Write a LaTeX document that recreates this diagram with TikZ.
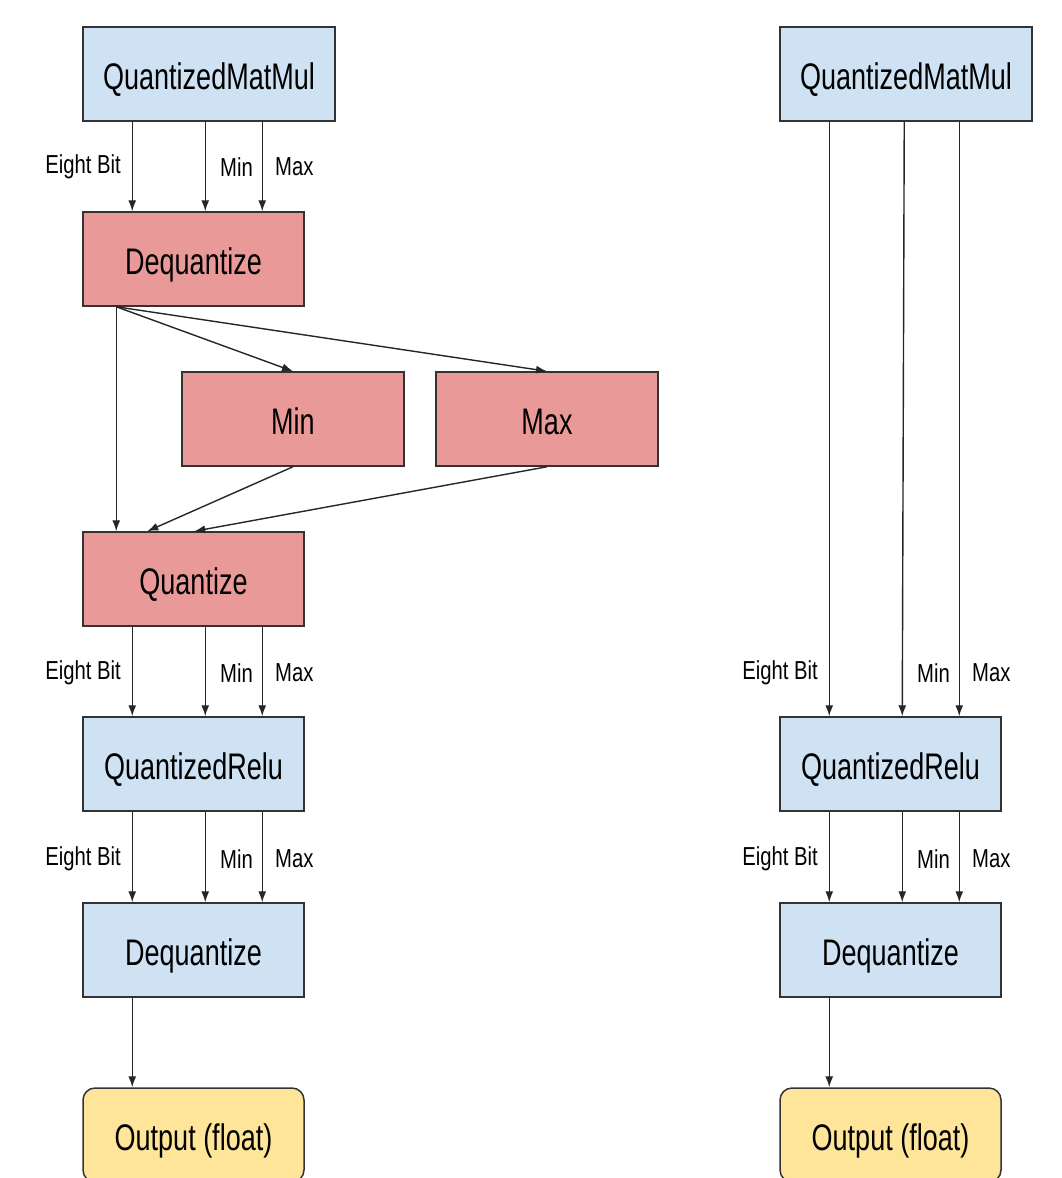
\documentclass[tikz,border=0pt]{standalone}
\usepackage{fontspec}
\setmainfont{Liberation Sans}[FakeStretch=0.73]
\newfontfamily\lblfont{Liberation Sans}[FakeStretch=0.78]
\usetikzlibrary{arrows.meta}
\definecolor{bluefill}{HTML}{CFE2F3}
\definecolor{redfill}{HTML}{EA9999}
\definecolor{yellowfill}{HTML}{FFE599}
\definecolor{edge}{HTML}{333333}
\tikzset{
  box/.style={draw=edge, line width=1.5pt, inner sep=0pt, text height=31pt, text depth=0pt,
    font=\fontsize{37}{40}\selectfont},
  bluebox/.style={box, fill=bluefill},
  redbox/.style={box, fill=redfill},
  outbox/.style={box, fill=yellowfill, rounded corners=12pt},
  conn/.style={draw=black!85, line width=1.4pt, -{Latex[length=11pt,width=8pt]}},
  lbl/.style={inner sep=0pt, font=\lblfont\fontsize{26}{28}\selectfont},
}
\begin{document}
\begin{tikzpicture}[x=1pt,y=-1pt]
\useasboundingbox (0,0) rectangle (1061,1178);
% ---------- left column ----------
\node[bluebox, minimum width=252pt, minimum height=94pt] (lmm) at (209,74) {QuantizedMatMul};
\node[redbox, minimum width=221pt, minimum height=94pt] (ldq) at (193.5,259) {Dequantize};
\node[redbox, minimum width=222pt, minimum height=94pt] (lmin) at (293,419) {Min};
\node[redbox, minimum width=222pt, minimum height=94pt] (lmax) at (547,419) {Max};
\node[redbox, minimum width=221pt, minimum height=94pt] (lq) at (193.5,579) {Quantize};
\node[bluebox, minimum width=221pt, minimum height=94pt] (lrelu) at (193.5,764) {QuantizedRelu};
\node[bluebox, minimum width=221pt, minimum height=94pt] (ldq2) at (193.5,950) {Dequantize};
\node[outbox, minimum width=221pt, minimum height=94pt] (lout) at (193.5,1135) {Output (float)};

% MatMul -> Dequantize
\draw[conn] ([xshift=50pt]lmm.south west) -- ([xshift=50pt]ldq.north west);
\draw[conn] ([xshift=123pt]lmm.south west) -- ([xshift=123pt]ldq.north west);
\draw[conn] ([xshift=180pt]lmm.south west) -- ([xshift=180pt]ldq.north west);
\node[lbl, anchor=east] (l1a) at (121,167) {Eight Bit};
\node[lbl, anchor=west] (l1b) at (220,167) {Min};
\node[lbl, anchor=west] (l1c) at (275,167) {Max};

% Dequantize -> Min, Max, Quantize
\coordinate (dqo) at ([xshift=34pt]ldq.south west);
\draw[conn] (dqo) -- (lmin.north);
\draw[conn] (dqo) -- (lmax.north);
\draw[conn] (dqo) -- ([xshift=34pt]lq.north west);
\draw[conn] (lmin.south) -- ([xshift=65pt]lq.north west);
\draw[conn] (lmax.south) -- ([xshift=112pt]lq.north west);

% Quantize -> QuantizedRelu
\draw[conn] ([xshift=50pt]lq.south west) -- ([xshift=50pt]lrelu.north west);
\draw[conn] ([xshift=123pt]lq.south west) -- ([xshift=123pt]lrelu.north west);
\draw[conn] ([xshift=180pt]lq.south west) -- ([xshift=180pt]lrelu.north west);
\node[lbl, anchor=east] (l2a) at (121,673) {Eight Bit};
\node[lbl, anchor=west] (l2b) at (220,673) {Min};
\node[lbl, anchor=west] (l2c) at (275,673) {Max};

% QuantizedRelu -> Dequantize
\draw[conn] ([xshift=50pt]lrelu.south west) -- ([xshift=50pt]ldq2.north west);
\draw[conn] ([xshift=123pt]lrelu.south west) -- ([xshift=123pt]ldq2.north west);
\draw[conn] ([xshift=180pt]lrelu.south west) -- ([xshift=180pt]ldq2.north west);
\node[lbl, anchor=east] (l3a) at (121,859) {Eight Bit};
\node[lbl, anchor=west] (l3b) at (220,859) {Min};
\node[lbl, anchor=west] (l3c) at (275,859) {Max};

% Dequantize -> Output
\draw[conn] ([xshift=50pt]ldq2.south west) -- ([xshift=50pt]lout.north west);

% ---------- right column ----------
\node[bluebox, minimum width=252pt, minimum height=94pt] (rmm) at (906,74) {QuantizedMatMul};
\node[bluebox, minimum width=221pt, minimum height=94pt] (rrelu) at (890.5,764) {QuantizedRelu};
\node[bluebox, minimum width=221pt, minimum height=94pt] (rdq) at (890.5,950) {Dequantize};
\node[outbox, minimum width=221pt, minimum height=94pt] (rout) at (890.5,1135) {Output (float)};

\draw[conn] ([xshift=50pt]rmm.south west) -- ([xshift=50pt]rrelu.north west);
\draw[conn] ([xshift=125pt]rmm.south west) -- ([xshift=123pt]rrelu.north west);
\draw[conn] ([xshift=180pt]rmm.south west) -- ([xshift=180pt]rrelu.north west);
\node[lbl, anchor=east] (r1a) at (818,673) {Eight Bit};
\node[lbl, anchor=west] (r1b) at (917,673) {Min};
\node[lbl, anchor=west] (r1c) at (972,673) {Max};

\draw[conn] ([xshift=50pt]rrelu.south west) -- ([xshift=50pt]rdq.north west);
\draw[conn] ([xshift=123pt]rrelu.south west) -- ([xshift=123pt]rdq.north west);
\draw[conn] ([xshift=180pt]rrelu.south west) -- ([xshift=180pt]rdq.north west);
\node[lbl, anchor=east] (r2a) at (818,859) {Eight Bit};
\node[lbl, anchor=west] (r2b) at (917,859) {Min};
\node[lbl, anchor=west] (r2c) at (972,859) {Max};

\draw[conn] ([xshift=50pt]rdq.south west) -- ([xshift=50pt]rout.north west);
\end{tikzpicture}
\end{document}
